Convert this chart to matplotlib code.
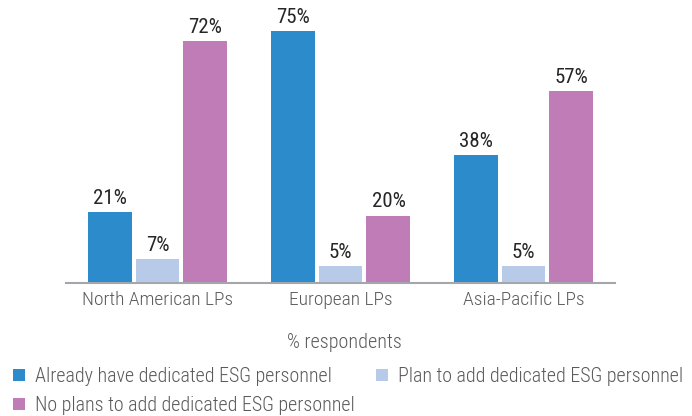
import matplotlib
matplotlib.use("Agg")
import matplotlib.pyplot as plt
import numpy as np

# survey results, share of respondents
regions = ["North American LPs", "European LPs", "Asia-Pacific LPs"]
series = ["Already have dedicated ESG personnel",
          "Plan to add dedicated ESG personnel",
          "No plans to add dedicated ESG personnel"]
already = [21, 75, 38]
plan = [7, 5, 5]
no_plans = [72, 20, 57]
colors = ["#2b8bcb", "#b7cbe9", "#bf7cb6"]

plt.rcParams["font.family"] = ["Roboto Condensed", "DejaVu Sans"]

fig = plt.figure(figsize=(6.92, 4.16), dpi=100)
ax = fig.add_axes([66 / 692, 1 - 283 / 416, 549 / 692, 283 / 416])

x = np.arange(len(regions))
width = 0.24
step = 0.262
for i, (vals, c) in enumerate(zip([already, plan, no_plans], colors)):
    pos = x + (i - 1) * step
    bars = ax.bar(pos, vals, width, color=c, label=series[i], zorder=2)
    for b, v in zip(bars, vals):
        ax.text(b.get_x() + b.get_width() / 2, v + 1.3, f"{v}%",
                ha="center", va="bottom", fontsize=15, fontweight="normal",
                color="#262626")

ax.set_xlim(-0.5, 2.5)
ax.set_ylim(0, 84.2)
ax.set_yticks([])
ax.set_xticks(x)
ax.set_xticklabels(regions, fontsize=14, color="#5a5a5a", fontweight="light")
ax.tick_params(axis="x", length=0, pad=6)
for s in ["top", "left", "right"]:
    ax.spines[s].set_visible(False)
ax.spines["bottom"].set_color("#a3a7ab")
ax.spines["bottom"].set_linewidth(1.5)

fig.text(344 / 692, 1 - 343 / 416, "% respondents", ha="center", va="center",
         fontsize=14.5, color="#5a5a5a", fontweight="light")

# legend fills row by row: first row has series 0 and 1, second row series 2
handles, labels = ax.get_legend_handles_labels()
order = [0, 2, 1]
leg = fig.legend([handles[k] for k in order], [labels[k] for k in order],
                 loc="upper left", bbox_to_anchor=(5 / 692, 1 - 359 / 416),
                 ncol=2, frameon=False, fontsize=14.4, labelcolor="#5a5a5a",
                 handlelength=0.6, handleheight=0.6, handletextpad=0.5,
                 columnspacing=1.05, borderaxespad=0, borderpad=0.4, labelspacing=0.5)
for t in leg.get_texts():
    t.set_fontweight("light")

fig.savefig("out.png", dpi=100)
